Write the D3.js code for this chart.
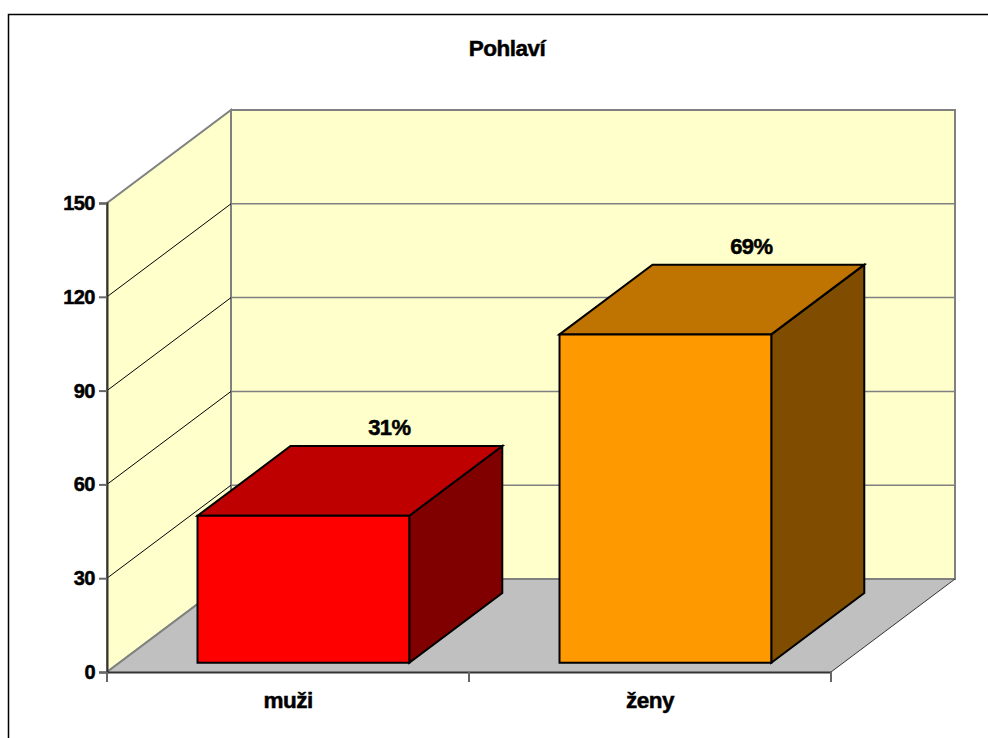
<!DOCTYPE html>
<html>
<head>
<meta charset="utf-8">
<script src="https://cdn.jsdelivr.net/npm/d3@7/dist/d3.min.js"></script>
<style>
  html, body { margin: 0; padding: 0; background: #fff; }
  svg { display: block; }
  text { font-family: "Liberation Sans", Arial, sans-serif; font-weight: bold; fill: #000;
         stroke: #000; stroke-width: 0.5px; }
</style>
</head>
<body>
<svg id="chart" width="988" height="738"></svg>
<script>
// Data
const title = "Pohlaví";
const categories = ["muži", "ženy"];
const counts = [47, 105];
const tickValues = [0, 30, 60, 90, 120, 150];
const frontColors = ["#FF0000", "#FF9900"];
const topColors = ["#BF0000", "#BF7300"];
const sideColors = ["#800000", "#7F4C00"];

const total = d3.sum(counts);
const percentLabels = counts.map(c => Math.round(c / total * 100) + "%");

// Layout of the 3D plot
const W = 988, H = 738;
const plotLeft = 107, plotRight = 831, plotBottom = 672, plotTop = 203;
const depthX = 124, depthY = -93;      // offset from front plane to back wall
const barDepth0 = 0.1, barDepth1 = 0.85;
const barFrac = 0.585;
const barShift = 3;

const svg = d3.select("#chart");

const x = d3.scaleBand().domain(categories).range([plotLeft, plotRight]).padding(0);
const y = d3.scaleLinear().domain([0, 150]).range([plotBottom, plotTop]);

// project a (px, py) on the front plane into depth d (0 = front, 1 = back wall)
const P = (px, py, d) => [px + depthX * d, py + depthY * d];
const poly = pts => pts.map(p => p.join(",")).join(" ");

// Outer frame
svg.append("rect")
  .attr("x", 8.5).attr("y", 14.5)
  .attr("width", W).attr("height", H)
  .attr("fill", "#fff").attr("stroke", "#000").attr("stroke-width", 1.5);

// Title
svg.append("text")
  .attr("x", 507).attr("y", 56)
  .attr("text-anchor", "middle")
  .attr("font-size", 22.5).attr("letter-spacing", -0.5)
  .text(title);

const y0 = y(0), yMax = y(150);

// Back wall
svg.append("polygon")
  .attr("points", poly([P(plotLeft, yMax, 1), P(plotRight, yMax, 1), P(plotRight, y0, 1), P(plotLeft, y0, 1)]))
  .attr("fill", "#FFFFCC").attr("stroke", "#808080").attr("stroke-width", 2);

// Left wall
svg.append("polygon")
  .attr("points", poly([P(plotLeft, y0, 0), P(plotLeft, yMax, 0), P(plotLeft, yMax, 1), P(plotLeft, y0, 1)]))
  .attr("fill", "#FFFFCC").attr("stroke", "#808080").attr("stroke-width", 2);

// Floor
svg.append("polygon")
  .attr("points", poly([P(plotLeft, y0, 0), P(plotLeft, y0, 1), P(plotRight, y0, 1), P(plotRight, y0, 0)]))
  .attr("fill", "#C0C0C0").attr("stroke", "none");
svg.append("line")
  .attr("x1", P(plotLeft, y0, 0)[0]).attr("y1", P(plotLeft, y0, 0)[1])
  .attr("x2", P(plotLeft, y0, 1)[0]).attr("y2", P(plotLeft, y0, 1)[1])
  .attr("stroke", "#808080").attr("stroke-width", 2);
svg.append("line")
  .attr("x1", P(plotLeft, y0, 1)[0]).attr("y1", P(plotLeft, y0, 1)[1])
  .attr("x2", P(plotRight, y0, 1)[0]).attr("y2", P(plotRight, y0, 1)[1])
  .attr("stroke", "#808080").attr("stroke-width", 2);
svg.append("line")
  .attr("x1", P(plotRight, y0, 0)[0]).attr("y1", P(plotRight, y0, 0)[1])
  .attr("x2", P(plotRight, y0, 1)[0]).attr("y2", P(plotRight, y0, 1)[1])
  .attr("stroke", "#333").attr("stroke-width", 1);

// Gridlines: back wall horizontals and left wall diagonals
const inner = tickValues.filter(v => v > 0 && v < 150);
svg.append("g").selectAll("line").data(inner).join("line")
  .attr("x1", d => P(plotLeft, y(d), 1)[0]).attr("y1", d => P(plotLeft, y(d), 1)[1])
  .attr("x2", d => P(plotRight, y(d), 1)[0]).attr("y2", d => P(plotRight, y(d), 1)[1])
  .attr("stroke", "#808080").attr("stroke-width", 1.5);
svg.append("g").selectAll("line").data(inner).join("line")
  .attr("x1", d => P(plotLeft, y(d), 0)[0]).attr("y1", d => P(plotLeft, y(d), 0)[1])
  .attr("x2", d => P(plotLeft, y(d), 1)[0]).attr("y2", d => P(plotLeft, y(d), 1)[1])
  .attr("stroke", "#000").attr("stroke-width", 1);

// Y axis
const yAxis = svg.append("g")
  .attr("transform", `translate(${plotLeft},0)`)
  .call(d3.axisLeft(y).tickValues(tickValues).tickSize(8).tickPadding(4));
yAxis.select(".domain").attr("stroke", "#333").attr("stroke-width", 2);
yAxis.selectAll(".tick line").attr("stroke", "#666").attr("stroke-width", 2);
yAxis.selectAll(".tick text")
  .attr("font-size", 20).attr("letter-spacing", -0.5)
  .attr("font-family", "'Liberation Sans', Arial, sans-serif")
  .attr("font-weight", "bold").attr("fill", "#000");

// X axis
const xAxis = svg.append("g")
  .attr("transform", `translate(0,${y0})`)
  .call(d3.axisBottom(x).tickSize(0).tickPadding(20));
xAxis.select(".domain").attr("stroke", "#333").attr("stroke-width", 2);
xAxis.selectAll(".tick text")
  .attr("font-size", 22.5).attr("letter-spacing", -0.5)
  .attr("font-family", "'Liberation Sans', Arial, sans-serif")
  .attr("font-weight", "bold").attr("fill", "#000");
// category separators
const seps = [plotLeft, ...categories.map(c => x(c) + x.bandwidth())];
svg.append("g").selectAll("line").data(seps).join("line")
  .attr("x1", d => d).attr("x2", d => d)
  .attr("y1", y0).attr("y2", y0 + 10)
  .attr("stroke", "#666").attr("stroke-width", 2);

// Bars
const bw = x.bandwidth() * barFrac;
const bars = svg.append("g").selectAll("g").data(categories).join("g");
bars.each(function (c, i) {
  const g = d3.select(this);
  const x0 = x(c) + (x.bandwidth() - bw) / 2 + barShift, x1 = x0 + bw;
  const yb = y(0), yt = y(counts[i]);
  const f = (px, py) => P(px, py, barDepth0);
  const b = (px, py) => P(px, py, barDepth1);
  // right side
  g.append("polygon")
    .attr("points", poly([f(x1, yt), b(x1, yt), b(x1, yb), f(x1, yb)]))
    .attr("fill", sideColors[i]);
  // top
  g.append("polygon")
    .attr("points", poly([f(x0, yt), b(x0, yt), b(x1, yt), f(x1, yt)]))
    .attr("fill", topColors[i]);
  // front
  g.append("polygon")
    .attr("points", poly([f(x0, yt), f(x1, yt), f(x1, yb), f(x0, yb)]))
    .attr("fill", frontColors[i]);
  g.selectAll("polygon")
    .attr("stroke", "#000").attr("stroke-width", 2).attr("stroke-linejoin", "miter");
  // percentage label above the back top edge
  const lp = b((x0 + x1) / 2, yt);
  g.append("text")
    .attr("x", lp[0] - 7).attr("y", lp[1] - 11)
    .attr("text-anchor", "middle")
    .attr("font-size", 22).attr("letter-spacing", -0.5)
    .text(percentLabels[i]);
});
</script>
</body>
</html>
